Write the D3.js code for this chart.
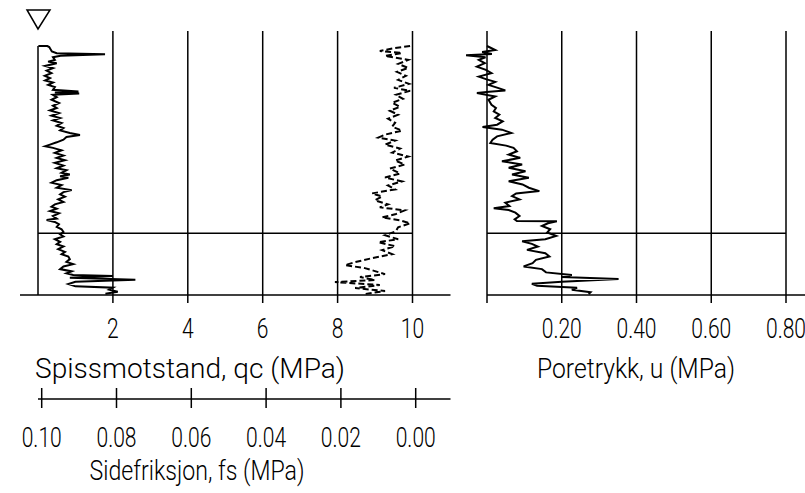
<!DOCTYPE html>
<html>
<head>
<meta charset="utf-8">
<script src="https://cdn.jsdelivr.net/npm/d3@7/dist/d3.min.js"></script>
<style>
  body { margin: 0; background: #fff; }
  text { font-family: Roboto, "DejaVu Sans", sans-serif; font-weight: 300; fill: #000; }
</style>
</head>
<body>
<div id="chart"></div>
<script>
// CPT sounding: depth (m) against qc, fs and u
var qcTicks = [2, 4, 6, 8, 10];
var fsTicks = [0.10, 0.08, 0.06, 0.04, 0.02, 0.00];
var uTicks = [0, 0.20, 0.40, 0.60, 0.80];
var qcTitle = "Spissmotstand, qc (MPa)";
var fsTitle = "Sidefriksjon, fs (MPa)";
var uTitle = "Poretrykk, u (MPa)";
var layerDepth = 18.8;   // horizontal boundary
var gwDepth = 0;         // groundwater marker
var maxDepth = 25;

// [depth, qc]
var qcData = [
  [0, 0.01], [0, 0.25], [0.1, 0.3], [0.55, 0.37], [0.73, 0.5], [0.83, 1.79], [0.97, 0.6],
  [1.13, 0.4], [1.4, 0.45], [1.57, 0.27], [1.73, 0.5], [2.0, 0.19], [2.23, 0.4], [2.47, 0.23],
  [2.73, 0.36], [3.0, 0.18], [3.23, 0.32], [3.47, 0.19], [3.67, 0.4], [3.9, 0.27], [4.13, 0.45],
  [4.4, 0.4], [4.57, 1.08], [4.67, 0.45], [4.77, 1.1], [4.9, 0.4], [5.13, 0.5], [5.4, 0.36],
  [5.73, 0.56], [6.0, 0.4], [6.23, 0.5], [6.47, 0.32], [6.73, 0.56], [7.0, 0.36], [7.23, 0.59],
  [7.47, 0.4], [7.73, 0.63], [8.0, 0.5], [8.23, 0.68], [8.47, 0.59], [8.73, 0.85], [8.93, 1.12],
  [9.13, 0.76], [9.4, 0.68], [9.67, 0.5], [9.9, 0.32], [10.07, 0.19], [10.23, 0.4], [10.47, 0.63],
  [10.73, 0.45], [11.0, 0.68], [11.23, 0.5], [11.47, 0.72], [11.73, 0.45], [12.0, 0.68], [12.27, 0.5],
  [12.47, 0.76], [12.73, 0.63], [12.9, 0.85], [13.07, 0.59], [13.23, 0.81], [13.47, 0.5], [13.73, 0.36],
  [13.97, 0.63], [14.23, 0.5], [14.47, 0.9], [14.67, 0.68], [14.9, 0.59], [15.13, 0.72], [15.4, 0.54],
  [15.67, 0.68], [15.9, 0.45], [16.13, 0.36], [16.33, 0.5], [16.57, 0.32], [16.8, 0.56], [17.07, 0.4],
  [17.33, 0.5], [17.47, 0.23], [17.67, 0.45], [17.9, 0.56], [18.17, 0.5], [18.4, 0.63], [18.67, 0.68],
  [18.9, 0.59], [19.13, 0.68], [19.4, 0.45], [19.67, 0.59], [19.9, 0.5], [20.13, 0.68], [20.4, 0.54],
  [20.67, 0.72], [20.9, 0.63], [21.13, 0.81], [21.4, 0.85], [21.67, 0.76], [21.9, 0.94], [22.13, 0.68],
  [22.4, 0.59], [22.63, 0.9], [22.83, 0.76], [23.0, 0.94], [23.1, 2.0], [23.27, 0.85], [23.47, 2.6],
  [23.67, 1.0], [23.9, 0.81], [24.13, 1.0], [24.27, 2.0], [24.47, 1.9], [24.67, 2.13], [24.87, 1.8]
];

// [depth, fs]
var fsData = [
  [0, 0.0015], [0.2, 0.0056], [0.5, 0.0096], [0.7, 0.0037], [1.0, 0.0082], [1.4, 0.002], [1.8, 0.0047],
  [2.2, 0.002], [2.6, 0.005], [3.0, 0.0026], [3.4, 0.0047], [3.8, 0.0018], [4.2, 0.0058], [4.5, 0.0015],
  [4.9, 0.0053], [5.3, 0.0034], [5.7, 0.0063], [6.1, 0.0042], [6.5, 0.0069], [6.9, 0.0047], [7.3, 0.0074],
  [7.7, 0.0055], [8.1, 0.0063], [8.5, 0.0037], [8.9, 0.0082], [9.2, 0.01], [9.5, 0.0055], [9.9, 0.0082],
  [10.3, 0.0042], [10.7, 0.0063], [11.1, 0.002], [11.5, 0.0055], [11.9, 0.0029], [12.3, 0.0069],
  [12.8, 0.0042], [13.2, 0.0082], [13.6, 0.0037], [14.0, 0.0074], [14.4, 0.0055], [14.8, 0.0117],
  [15.1, 0.009], [15.5, 0.0109], [15.9, 0.0074], [16.2, 0.0096], [16.5, 0.0029], [16.9, 0.0055],
  [17.2, 0.009], [17.5, 0.0042], [17.8, 0.0015], [18.2, 0.0047], [18.6, 0.0053], [19.0, 0.0082],
  [19.4, 0.0047], [19.7, 0.01], [20.1, 0.0055], [20.5, 0.009], [20.9, 0.0063], [21.3, 0.0117],
  [21.7, 0.0162], [22.0, 0.0189], [22.3, 0.0136], [22.6, 0.0109], [22.9, 0.0082], [23.2, 0.0149],
  [23.5, 0.0109], [23.7, 0.0216], [24.0, 0.0096], [24.3, 0.0162], [24.6, 0.0082], [24.9, 0.0136]
];

// [depth, u]
var uData = [
  [0, 0], [0.4, 0.022], [0.6, -0.013], [0.8, 0.013], [0.93, -0.056], [1.13, -0.004], [1.4, -0.022],
  [1.73, -0.006], [2.07, -0.027], [2.4, -0.003], [2.73, 0.012], [3.07, -0.022], [3.33, -0.003],
  [3.6, 0.022], [3.9, 0.004], [4.23, 0.031], [4.47, 0.049], [4.6, 0.006], [4.73, -0.027], [5.07, 0.022],
  [5.4, 0.004], [5.9, 0.012], [6.23, 0.024], [6.57, 0.018], [6.9, 0.033], [7.23, 0.022], [7.57, 0.042],
  [7.9, 0.027], [8.13, -0.012], [8.4, 0.04], [8.73, 0.065], [9.07, 0.027], [9.4, 0.015], [9.73, 0.009],
  [10.0, 0.051], [10.23, 0.071], [10.57, 0.08], [10.9, 0.058], [11.23, 0.089], [11.57, 0.04],
  [11.9, 0.094], [12.23, 0.058], [12.57, 0.103], [12.9, 0.067], [13.23, 0.112], [13.57, 0.058],
  [13.9, 0.095], [14.23, 0.112], [14.57, 0.14], [14.8, 0.078], [15.07, 0.067], [15.4, 0.087],
  [15.73, 0.049], [16.07, 0.06], [16.3, 0.018], [16.47, 0.058], [16.73, 0.076], [17.07, 0.087],
  [17.4, 0.074], [17.57, 0.08], [17.6, 0.187], [17.8, 0.163], [18.07, 0.147], [18.4, 0.169],
  [18.73, 0.161], [19.07, 0.185], [19.4, 0.156], [19.6, 0.094], [19.87, 0.12], [20.13, 0.136],
  [20.47, 0.107], [20.8, 0.156], [21.13, 0.167], [21.47, 0.131], [21.8, 0.122], [22.13, 0.098],
  [22.4, 0.147], [22.73, 0.158], [23.0, 0.227], [23.2, 0.2], [23.4, 0.352], [23.67, 0.2], [23.87, 0.12],
  [24.07, 0.134], [24.27, 0.241], [24.47, 0.227], [24.73, 0.277], [24.9, 0.272]
];

var width = 805, height = 493;

var svg = d3.select("#chart")
  .append("svg")
    .attr("width", width)
    .attr("height", height);

var y = d3.scaleLinear().domain([0, maxDepth]).range([46, 295]);
var xq = d3.scaleLinear().domain([0, 10]).range([38, 412.5]);
var xf = d3.scaleLinear().domain([0.10, 0]).range([41.7, 415.7]);
var xu = d3.scaleLinear().domain([0, 0.8]).range([487, 786]);

var gridTop = y(0) - 15;
var yBot = y(maxDepth);

function line(x1, y1, x2, y2, w) {
  svg.append("line")
    .attr("x1", x1).attr("y1", y1).attr("x2", x2).attr("y2", y2)
    .attr("stroke", "#000")
    .attr("stroke-width", w || 1.5);
}

// grid lines + ticks, qc panel
qcTicks.forEach(function(d) { line(xq(d), gridTop, xq(d), yBot + 8); });
line(xq(0), y(0), xq(0), yBot);
line(xq(0) - 18, yBot, xq(10) + 38, yBot);
line(xq(0), y(layerDepth), xq(10), y(layerDepth));

// u panel
uTicks.forEach(function(d) { line(xu(d), gridTop, xu(d), yBot + 8); });
line(xu(0), yBot, width, yBot);
line(xu(0), y(layerDepth), xu(0.8), y(layerDepth));

// groundwater triangle
var gx = xq(0), gy = y(gwDepth) - 17;
svg.append("path")
  .attr("d", "M" + (gx - 11) + "," + (gy - 19) + "L" + (gx + 12) + "," + (gy - 19) + "L" + gx + "," + gy + "Z")
  .attr("fill", "none")
  .attr("stroke", "#000")
  .attr("stroke-width", 1.5);

// tick labels
function tickLabels(ticks, scale, yy, fmt) {
  svg.selectAll(null)
    .data(ticks)
    .enter()
    .append("text")
      .attr("transform", function(d) { return "translate(" + scale(d) + "," + yy + ") scale(0.78,1)"; })
      .attr("text-anchor", "middle")
      .style("font-size", "27px")
      .text(fmt);
}
tickLabels(qcTicks, xq, 338, d3.format("d"));
tickLabels(uTicks.filter(function(d) { return d > 0; }), xu, 338, d3.format(".2f"));

// fs axis
var fsY = 399;
line(xq(0), fsY, xq(10) + 38, fsY);
fsTicks.forEach(function(d) { line(xf(d), fsY - 11, xf(d), fsY + 9); });
tickLabels(fsTicks, xf, 447, d3.format(".2f"));

// titles
function title(txt, x, yy, len) {
  svg.append("text")
    .attr("x", x).attr("y", yy)
    .attr("text-anchor", "middle")
    .attr("textLength", len)
    .attr("lengthAdjust", "spacingAndGlyphs")
    .style("font-size", "27px")
    .text(txt);
}
title(qcTitle, 190, 378, 310);
title(uTitle, 636, 378, 198);
title(fsTitle, 197, 480, 215);

// traces
var qcLine = d3.line().x(function(d) { return xq(d[1]); }).y(function(d) { return y(d[0]); });
var fsLine = d3.line().x(function(d) { return xf(d[1]); }).y(function(d) { return y(d[0]); });
var uLine = d3.line().x(function(d) { return xu(d[1]); }).y(function(d) { return y(d[0]); });

svg.append("path").datum(qcData)
  .attr("d", qcLine)
  .attr("fill", "none").attr("stroke", "#000").attr("stroke-width", 2);

svg.append("path").datum(fsData)
  .attr("d", fsLine)
  .attr("fill", "none").attr("stroke", "#000").attr("stroke-width", 2)
  .attr("stroke-dasharray", "6,3");

svg.append("path").datum(uData)
  .attr("d", uLine)
  .attr("fill", "none").attr("stroke", "#000").attr("stroke-width", 2);
</script>
</body>
</html>
